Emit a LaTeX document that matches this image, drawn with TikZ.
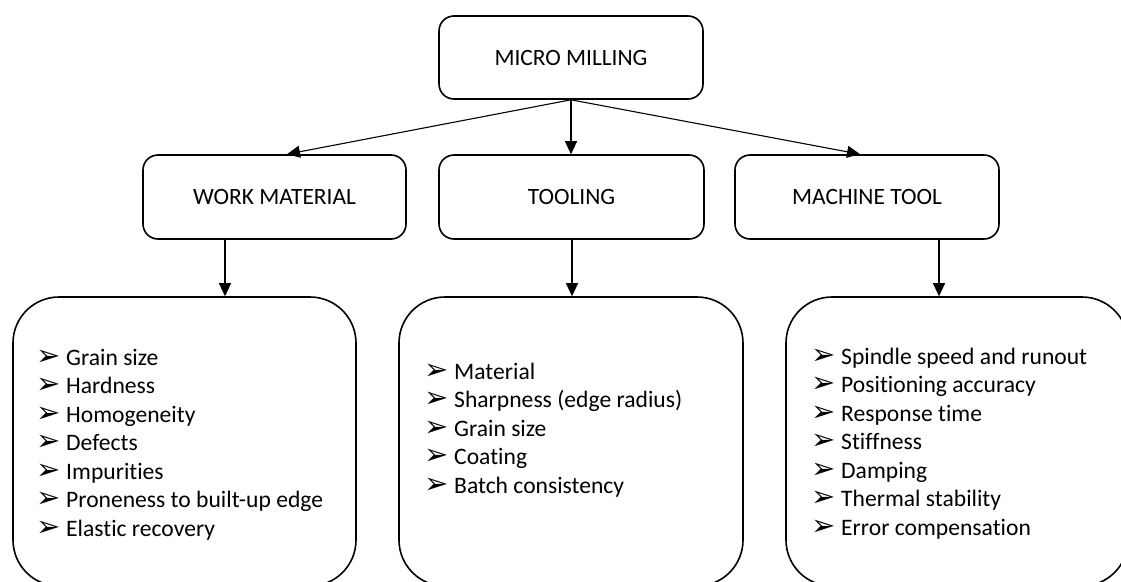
\documentclass[tikz,border=0pt]{standalone}
\usepackage{fontspec}
\setmainfont{Carlito}[Ligatures=NoCommon]
\newfontfamily\dvs{DejaVu Sans}
\usetikzlibrary{arrows.meta}
\newcommand\bul{\makebox[30pt][l]{\dvs\fontsize{29}{29}\selectfont ➢}}
\begin{document}
\begin{tikzpicture}[x=1pt,y=-1pt,
  box/.style={draw, line width=1.6pt, rounded corners=15pt, inner sep=0pt, align=center,
    font=\fontsize{23.4}{28}\selectfont},
  bigbox/.style={draw, line width=1.6pt, rounded corners=46pt, inner sep=0pt},
  item/.style={anchor=base west, inner sep=0pt, font=\fontsize{23.6}{28}\selectfont},
  arr/.style={line width=1.1pt, -{Triangle[width=12pt,length=13pt]}}]
\useasboundingbox (0,0) rectangle (1121,581);
\node[box, minimum width=264pt, minimum height=83pt] (top) at (571,57.5) {MICRO MILLING};
\node[box, minimum width=263pt, minimum height=84pt] (wm) at (274.5,197) {WORK MATERIAL};
\node[box, minimum width=265pt, minimum height=84pt] (tl) at (571.5,197) {TOOLING};
\node[box, minimum width=264pt, minimum height=84pt] (mt) at (867,197) {MACHINE TOOL};
\node[bigbox, minimum width=343pt, minimum height=289pt] (bwm) at (184.5,441.5) {};
\node[bigbox, minimum width=344pt, minimum height=289pt] (btl) at (571,441.5) {};
\node[bigbox, minimum width=342pt, minimum height=289pt] (bmt) at (957,441.5) {};
\draw[arr] (top.south) -- (287,0 |- wm.north);
\draw[arr] (top.south) -- (top.south |- tl.north);
\draw[arr] (top.south) -- (860,0 |- mt.north);
\draw[arr] (225,0 |- wm.south) -- (225,0 |- bwm.north);
\draw[arr] (572,0 |- tl.south) -- (572,0 |- btl.north);
\draw[arr] (939,0 |- mt.south) -- (939,0 |- bmt.north);
\foreach \t [count=\i] in {Grain size,Hardness,Homogeneity,Defects,Impurities,Proneness to built-up edge,Elastic recovery}
  \node[item] (w\i) at (36,{365+28.5*(\i-1)}) {\bul\t};
\foreach \t [count=\i] in {Material,Sharpness (edge radius),Grain size,Coating,Batch consistency}
  \node[item] (t\i) at (424,{379+28.5*(\i-1)}) {\bul\t};
\foreach \t [count=\i] in {Spindle speed and runout,Positioning accuracy,Response time,Stiffness,Damping,Thermal stability,Error compensation}
  \node[item] (m\i) at (811,{364+28.5*(\i-1)}) {\bul\t};
\end{tikzpicture}
\end{document}
